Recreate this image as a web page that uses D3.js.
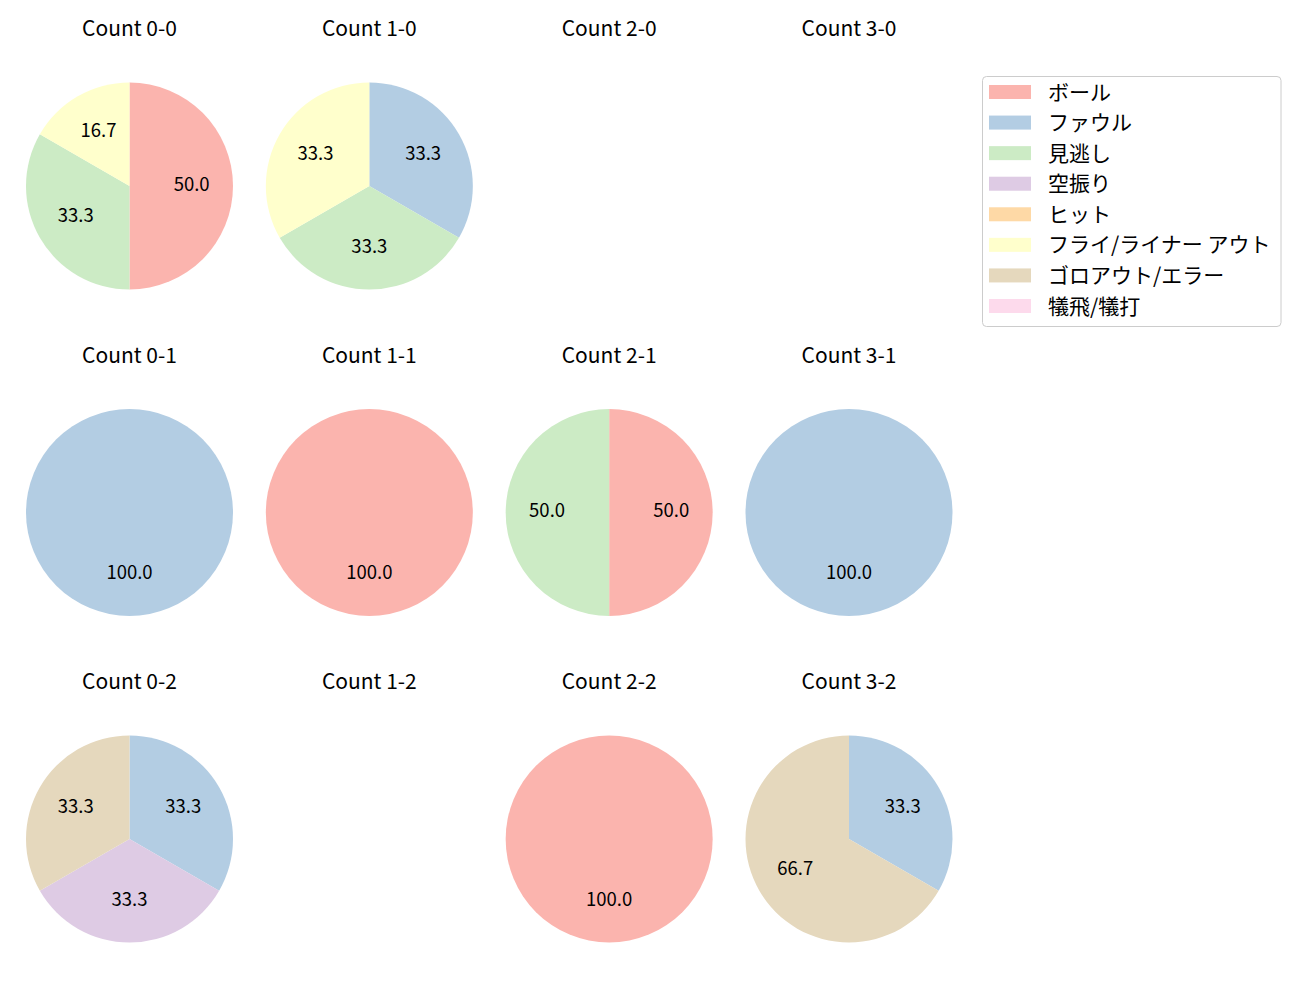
<!DOCTYPE html>
<html><head><meta charset="utf-8">
<script src="https://cdn.jsdelivr.net/npm/d3@7"></script>
<style>body{margin:0;background:#fff;} text{font-family:"Noto Sans CJK JP","Noto Sans",sans-serif;}</style>
</head><body>
<svg id="chart" width="1300" height="1000"></svg>
<script>
const categories = ["ボール","ファウル","見逃し","空振り","ヒット","フライ/ライナー アウト","ゴロアウト/エラー","犠飛/犠打"];
const colors = ["#fbb4ae","#b3cde3","#ccebc5","#decbe4","#fed9a6","#ffffcc","#e5d8bd","#fddaec"];
const counts = ["0-0","1-0","2-0","3-0","0-1","1-1","2-1","3-1","0-2","1-2","2-2","3-2"];
// values per category (order as categories)
const values00 = [3,0,2,0,0,1,0,0];
const values10 = [0,1,1,0,0,1,0,0];
const values20 = [0,0,0,0,0,0,0,0];
const values30 = [0,0,0,0,0,0,0,0];
const values01 = [0,1,0,0,0,0,0,0];
const values11 = [1,0,0,0,0,0,0,0];
const values21 = [1,0,1,0,0,0,0,0];
const values31 = [0,1,0,0,0,0,0,0];
const values02 = [0,1,0,1,0,0,1,0];
const values12 = [0,0,0,0,0,0,0,0];
const values22 = [1,0,0,0,0,0,0,0];
const values32 = [0,1,0,0,0,0,2,0];
const allValues = [values00,values10,values20,values30,values01,values11,values21,values31,values02,values12,values22,values32];

const svg = d3.select("#chart");
const colX = d3.scalePoint().domain([0,1,2,3]).range([129.5,849]);
const rowY = d3.scalePoint().domain([0,1,2]).range([186,839]);
const R = 103.5;
const color = d3.scaleOrdinal().domain(categories).range(colors);
const pie = d3.pie().value(d=>d.v).sort(null);
const arc = d3.arc().innerRadius(0).outerRadius(R);
const labelArc = d3.arc().innerRadius(R*0.6).outerRadius(R*0.6);

counts.forEach((c,i)=>{
  const cx = colX(i%4), cy = rowY(Math.floor(i/4));
  svg.append("text").attr("x",cx).attr("y",cy-150).attr("text-anchor","middle")
    .attr("font-size",21).attr("fill","#000").text("Count "+c);
  const vals = allValues[i];
  const total = d3.sum(vals);
  if(total===0) return;
  const data = categories.map((k,j)=>({k, v: vals[j]})).filter(d=>d.v>0);
  const g = svg.append("g").attr("transform",`translate(${cx},${cy})`);
  const arcs = pie(data);
  g.selectAll("path").data(arcs).join("path").attr("d",arc).attr("fill",d=>color(d.data.k));
  g.selectAll("text").data(arcs).join("text")
    .attr("transform",d=>`translate(${labelArc.centroid(d)})`)
    .attr("text-anchor","middle").attr("dy","0.26em")
    .attr("font-size",18.5).attr("fill","#000")
    .text(d=>(d.data.v/total*100).toFixed(1));
});

// legend
const lg = svg.append("g");
lg.append("rect").attr("x",982.5).attr("y",76.5).attr("width",298.5).attr("height",250).attr("rx",4)
  .attr("fill","#fff").attr("stroke","#ccc").attr("stroke-width",1);
const ly = d3.scalePoint().domain(categories).range([92,306]);
categories.forEach(k=>{
  lg.append("rect").attr("x",989).attr("y",ly(k)-7).attr("width",42).attr("height",14).attr("fill",color(k));
  lg.append("text").attr("x",1048).attr("y",ly(k)).attr("dy","0.36em")
    .attr("font-size",21).attr("fill","#000").text(k);
});
</script>
</body></html>
